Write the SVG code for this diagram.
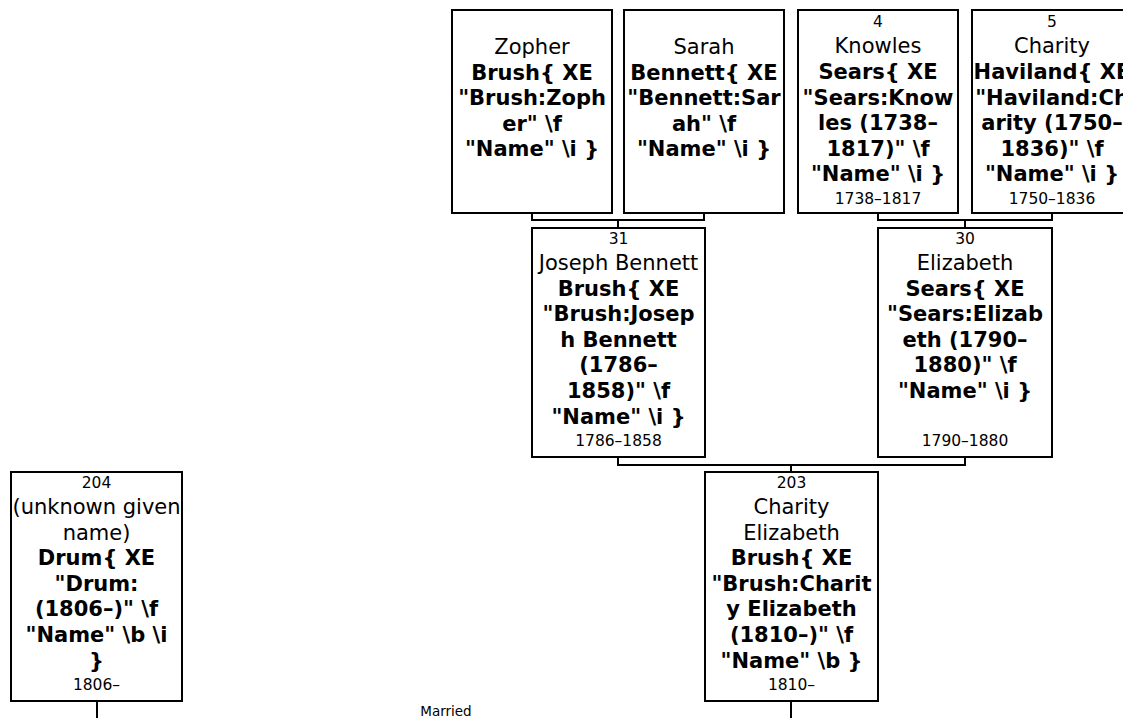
<svg xmlns="http://www.w3.org/2000/svg" width="1123" height="718" viewBox="0 0 1123 718">
<style>
.box{fill:#fff;stroke:#000;stroke-width:2}
.wire{fill:none;stroke:#000;stroke-width:2}
text{font-family:"DejaVu Sans","Verdana",sans-serif;text-anchor:middle;fill:#000}
.g{font-size:21px}
.b{font-size:21px;font-weight:bold}
.s{font-size:15.5px}
.m{font-size:13.5px}
</style>
<rect width="1123" height="718" fill="#fff"/>
<g id="connectors">
<path class="wire" d="M532,213 V220 H704 V213 M618,220 V228"/>
<path class="wire" d="M878,213 V220 H1052 V213 M965,220 V228"/>
<path class="wire" d="M618,457 V465 H965 V457 M791,465 V472"/>
<path class="wire" d="M97,701 V718 M791,701 V718"/>
</g>
<g id="zopher">
<rect class="box" x="452" y="10" width="160" height="203"/>
<text class="g" x="532" y="54">Zopher</text>
<text class="b" x="532" y="79.6">Brush{ XE</text>
<text class="b" x="532" y="105.2">"Brush:Zoph</text>
<text class="b" x="532" y="130.8">er" \f</text>
<text class="b" x="532" y="156.4">"Name" \i }</text>
</g>
<g id="sarah">
<rect class="box" x="624" y="10" width="160" height="203"/>
<text class="g" x="704" y="54">Sarah</text>
<text class="b" x="704" y="79.6">Bennett{ XE</text>
<text class="b" x="704" y="105.2">"Bennett:Sar</text>
<text class="b" x="704" y="130.8">ah" \f</text>
<text class="b" x="704" y="156.4">"Name" \i }</text>
</g>
<g id="knowles">
<rect class="box" x="798" y="10" width="160" height="203"/>
<text class="s" x="878" y="26.7">4</text>
<text class="g" x="878" y="53.3">Knowles</text>
<text class="b" x="878" y="78.9">Sears{ XE</text>
<text class="b" x="878" y="104.5">"Sears:Know</text>
<text class="b" x="878" y="130.1">les (1738–</text>
<text class="b" x="878" y="155.7">1817)" \f</text>
<text class="b" x="878" y="181.3">"Name" \i }</text>
<text class="s" x="878" y="204">1738–1817</text>
</g>
<g id="charity-haviland">
<rect class="box" x="972" y="10" width="160" height="203"/>
<text class="s" x="1052" y="26.7">5</text>
<text class="g" x="1052" y="53.3">Charity</text>
<text class="b" x="1052" y="78.9">Haviland{ XE</text>
<text class="b" x="1052" y="104.5">"Haviland:Ch</text>
<text class="b" x="1052" y="130.1">arity (1750–</text>
<text class="b" x="1052" y="155.7">1836)" \f</text>
<text class="b" x="1052" y="181.3">"Name" \i }</text>
<text class="s" x="1052" y="204">1750–1836</text>
</g>
<g id="joseph">
<rect class="box" x="532" y="228" width="173" height="229"/>
<text class="s" x="618.5" y="244">31</text>
<text class="g" x="618.5" y="270">Joseph Bennett</text>
<text class="b" x="618.5" y="295.6">Brush{ XE</text>
<text class="b" x="618.5" y="321.2">"Brush:Josep</text>
<text class="b" x="618.5" y="346.8">h Bennett</text>
<text class="b" x="618.5" y="372.4">(1786–</text>
<text class="b" x="618.5" y="398">1858)" \f</text>
<text class="b" x="618.5" y="423.6">"Name" \i }</text>
<text class="s" x="618.5" y="446">1786–1858</text>
</g>
<g id="elizabeth">
<rect class="box" x="878" y="228" width="174" height="229"/>
<text class="s" x="965" y="244">30</text>
<text class="g" x="965" y="270">Elizabeth</text>
<text class="b" x="965" y="295.6">Sears{ XE</text>
<text class="b" x="965" y="321.2">"Sears:Elizab</text>
<text class="b" x="965" y="346.8">eth (1790–</text>
<text class="b" x="965" y="372.4">1880)" \f</text>
<text class="b" x="965" y="398">"Name" \i }</text>
<text class="s" x="965" y="446">1790–1880</text>
</g>
<g id="charity-elizabeth">
<rect class="box" x="705" y="472" width="173" height="229"/>
<text class="s" x="791.5" y="488.3">203</text>
<text class="g" x="791.5" y="514">Charity</text>
<text class="g" x="791.5" y="539.6">Elizabeth</text>
<text class="b" x="791.5" y="565.2">Brush{ XE</text>
<text class="b" x="791.5" y="590.8">"Brush:Charit</text>
<text class="b" x="791.5" y="616.4">y Elizabeth</text>
<text class="b" x="791.5" y="642">(1810–)" \f</text>
<text class="b" x="791.5" y="667.6">"Name" \b }</text>
<text class="s" x="791.5" y="690">1810–</text>
</g>
<g id="drum">
<rect class="box" x="11" y="472" width="171" height="229"/>
<text class="s" x="96.5" y="488.3">204</text>
<text class="g" x="96.5" y="514">(unknown given</text>
<text class="g" x="96.5" y="539.6">name)</text>
<text class="b" x="96.5" y="565.2">Drum{ XE</text>
<text class="b" x="96.5" y="590.8">"Drum:</text>
<text class="b" x="96.5" y="616.4">(1806–)" \f</text>
<text class="b" x="96.5" y="642">"Name" \b \i</text>
<text class="b" x="96.5" y="667.6">}</text>
<text class="s" x="96.5" y="690">1806–</text>
</g>
<g id="married-label">
<text class="m" x="446" y="716">Married</text>
</g>
</svg>
